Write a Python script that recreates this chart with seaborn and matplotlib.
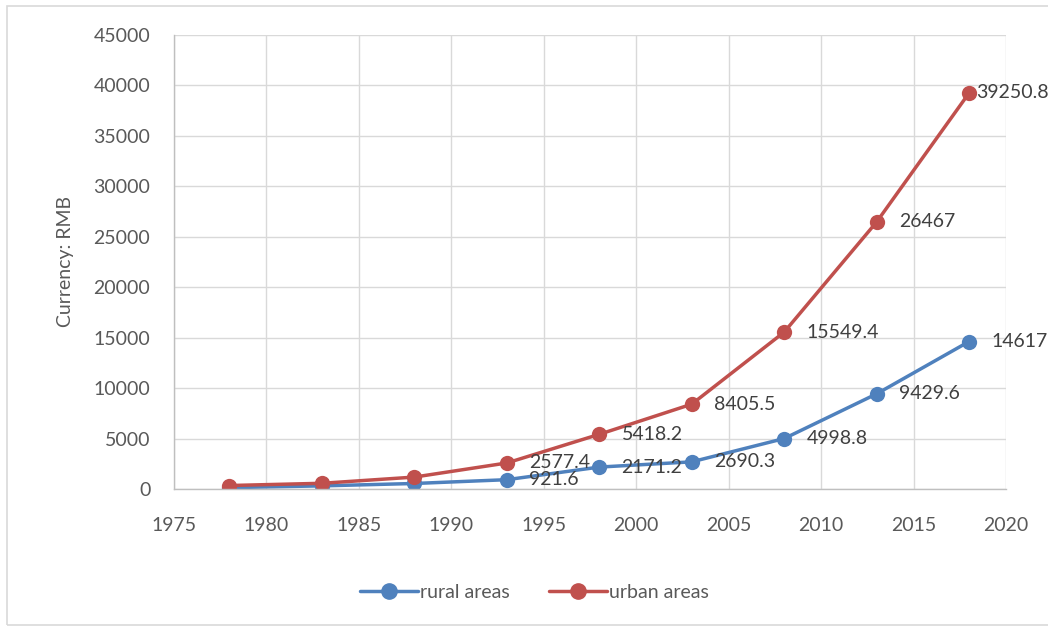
import seaborn as sns
import matplotlib.pyplot as plt
import pandas as pd
from matplotlib.patches import Rectangle

years = [1978, 1983, 1988, 1993, 1998, 2003, 2008, 2013, 2018]
rural = [133.6, 309.8, 544.9, 921.6, 2171.2, 2690.3, 4998.8, 9429.6, 14617]
urban = [343.4, 564.6, 1180.2, 2577.4, 5418.2, 8405.5, 15549.4, 26467, 39250.8]
series_names = ['rural areas', 'urban areas']
colors = ['#4F81BD', '#C0504D']
# only these points carry a value label in the original
labeled_from = 3

df = pd.DataFrame({'year': years * 2,
                   'value': rural + urban,
                   'area': [series_names[0]] * len(years) + [series_names[1]] * len(years)})

sns.set_theme(style='whitegrid')
plt.rcParams['font.family'] = ['Lato', 'DejaVu Sans']
fs = 14

fig = plt.figure(figsize=(10.48, 6.29), dpi=100)
ax = fig.add_axes([0.166, 0.2226, 0.794, 0.7218])

sns.lineplot(data=df, x='year', y='value', hue='area', palette=colors,
             marker='o', markersize=11, markeredgewidth=0, linewidth=2.5,
             ax=ax, legend=False)

ax.set_xlim(1975, 2020)
ax.set_ylim(0, 45000)
ax.set_xticks(range(1975, 2021, 5))
ax.set_yticks(range(0, 45001, 5000))
ax.set_facecolor('white')
ax.grid(True, color='#D9D9D9', linewidth=1)
for s in ['top', 'right']:
    ax.spines[s].set_visible(False)
for s in ['left', 'bottom']:
    ax.spines[s].set_color('#BFBFBF')
    ax.spines[s].set_linewidth(1)
ax.tick_params(axis='both', colors='#595959', labelsize=fs, length=0)
ax.tick_params(axis='x', pad=20)
ax.tick_params(axis='y', pad=17)
ax.set_xlabel('')
ax.set_ylabel('Currency: RMB', color='#595959', fontsize=fs, labelpad=14)

for vals in [rural, urban]:
    for x, v in list(zip(years, vals))[labeled_from:]:
        txt = f'{v:g}'
        # the last urban label sits tight against its marker, as in the original
        dx = 5 if v == urban[-1] else 16
        ax.annotate(txt, (x, v), xytext=(dx, 0), textcoords='offset points',
                    va='center', ha='left', fontsize=fs, color='#404040',
                    annotation_clip=False)

handles = [plt.Line2D([], [], color=c, marker='o', markersize=11, linewidth=2.5)
           for c in colors]
fig.legend(handles, series_names, loc='center', bbox_to_anchor=(0.51, 0.058),
           ncol=2, frameon=False, fontsize=fs, labelcolor='#595959',
           handlelength=3, handletextpad=0.1, columnspacing=2.0)

fig.patches.append(Rectangle((0.007, 0.006), 1.2, 0.985, transform=fig.transFigure,
                             fill=False, edgecolor='#D9D9D9', linewidth=1.2))

fig.savefig('out.png', dpi=100, facecolor='white')
